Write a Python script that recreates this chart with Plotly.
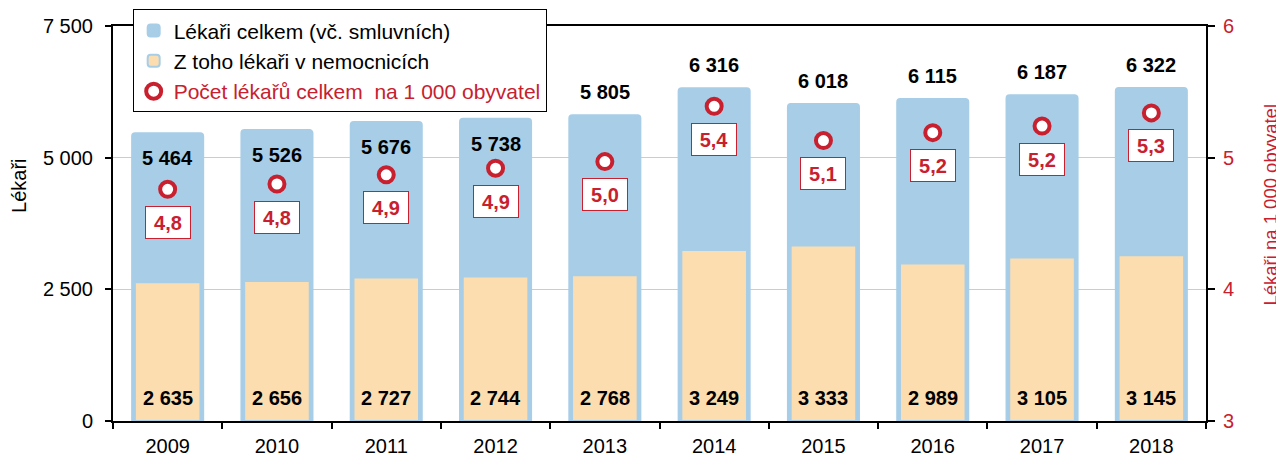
import plotly.graph_objects as go

# ---- data ----
years = ["2009", "2010", "2011", "2012", "2013", "2014", "2015", "2016", "2017", "2018"]
total_doctors = [5464, 5526, 5676, 5738, 5805, 6316, 6018, 6115, 6187, 6322]
hospital_doctors = [2635, 2656, 2727, 2744, 2768, 3249, 3333, 2989, 3105, 3145]
doctors_per_1000 = [4.76, 4.80, 4.87, 4.92, 4.97, 5.39, 5.13, 5.19, 5.24, 5.34]
left_ticks = [0, 2500, 5000, 7500]
right_ticks = [3, 4, 5, 6]

name_total = "Lékaři celkem (vč. smluvních)"
name_hosp = "Z toho lékaři v nemocnicích"
name_rate = "Počet lékařů celkem  na 1 000 obyvatel"
title_left = "Lékaři"
title_right = "Lékaři na 1 000 obyvatel"

# ---- styles ----
FONT = "Liberation Sans, Arial, sans-serif"
BLUE = "#A7CDE7"
ORANGE = "#FCDDB0"
RED = "#C8202E"


def fmt_int(v):
    return f"{v:,}".replace(",", " ")


def fmt_dec(v):
    return f"{v:.1f}".replace(".", ",")


fig = go.Figure()

fig.add_trace(go.Bar(
    x=years, y=total_doctors, name=name_total,
    marker=dict(color=BLUE, line=dict(color=BLUE, width=2)),
    width=0.65, hoverinfo="x+y",
))
fig.add_trace(go.Bar(
    x=years, y=hospital_doctors, name=name_hosp,
    marker=dict(color=ORANGE, line=dict(color=BLUE, width=2)),
    width=0.6, hoverinfo="x+y",
))
fig.add_trace(go.Scatter(
    x=years, y=doctors_per_1000, yaxis="y2", mode="markers",
    name=f'<span style="color:{RED}">{name_rate}</span>',
    marker=dict(symbol="circle", size=15, color="white",
                line=dict(color=RED, width=4)),
))

annotations = []
for i, tot in enumerate(total_doctors):
    # first four labels sit inside the bar (legend occupies the space above)
    inside = i < 4
    annotations.append(dict(
        x=i, y=tot, xref="x", yref="y", text=fmt_int(tot), showarrow=False,
        yshift=-25 if inside else 23,
        font=dict(family=FONT, size=20, color="black", weight="bold"),
    ))
for i, h in enumerate(hospital_doctors):
    annotations.append(dict(
        x=i, y=0, xref="x", yref="y", text=fmt_int(h), showarrow=False,
        yshift=23,
        font=dict(family=FONT, size=20, color="black", weight="bold"),
    ))
for i, r in enumerate(doctors_per_1000):
    annotations.append(dict(
        x=i, y=r, xref="x", yref="y2", text=fmt_dec(r), showarrow=False,
        yshift=-33, bgcolor="white", bordercolor=RED, borderwidth=1,
        borderpad=4, width=36, height=23, align="center", valign="middle",
        font=dict(family=FONT, size=20, color=RED, weight="bold"),
    ))

# axis titles (placed as in the original, slightly above the axis centre)
annotations.append(dict(
    text=title_left, xref="paper", yref="paper", x=-0.0855, y=0.594,
    textangle=-90, showarrow=False, xanchor="center", yanchor="middle",
    font=dict(family=FONT, size=20, color="black"),
))
annotations.append(dict(
    text=title_right, xref="paper", yref="paper", x=1.0595, y=0.548,
    textangle=-90, showarrow=False, xanchor="center", yanchor="middle",
    font=dict(family=FONT, size=18.5, color=RED),
))

# the page body adds an 8px offset, so the figure is 8px smaller
fig.update_layout(
    width=1276, height=449,
    margin=dict(l=105, r=78, t=18, b=36, autoexpand=False),
    paper_bgcolor="white", plot_bgcolor="white",
    barmode="overlay", barcornerradius=3,
    font=dict(family=FONT, size=20, color="black"),
    showlegend=True,
    legend=dict(
        x=0.018, y=1.042, xanchor="left", yanchor="top",
        bgcolor="white", bordercolor="black", borderwidth=1,
        font=dict(family=FONT, size=21, color="black"),
        traceorder="normal", entrywidth=382,
    ),
    xaxis=dict(
        type="category", range=[-0.5, len(years) - 0.5],
        showline=True, linecolor="black", linewidth=2,
        mirror=True, ticks="outside", tickson="boundaries", ticklen=6,
        tickcolor="black", tickwidth=2, showgrid=False,
        ticklabelstandoff=6,
        tickfont=dict(family=FONT, size=20, color="black"),
    ),
    yaxis=dict(
        range=[0, 7500], tickvals=left_ticks,
        ticktext=[fmt_int(v) for v in left_ticks],
        showline=True, linecolor="black", linewidth=2, ticks="outside",
        ticklen=6, tickcolor="black", tickwidth=2,
        showgrid=True, gridcolor="#CCCCCC", gridwidth=1, zeroline=False,
        ticklabelstandoff=8,
        tickfont=dict(family=FONT, size=20, color="black"),
    ),
    yaxis2=dict(
        range=[3, 6], tickvals=right_ticks, ticktext=[str(v) for v in right_ticks],
        overlaying="y", side="right", showline=True, linecolor="black",
        linewidth=2, ticks="outside", ticklen=7, tickcolor="black", tickwidth=2,
        showgrid=False, zeroline=False, ticklabelstandoff=4,
        tickfont=dict(family=FONT, size=20, color=RED),
    ),
    annotations=annotations,
)

fig.write_html("out.html")
